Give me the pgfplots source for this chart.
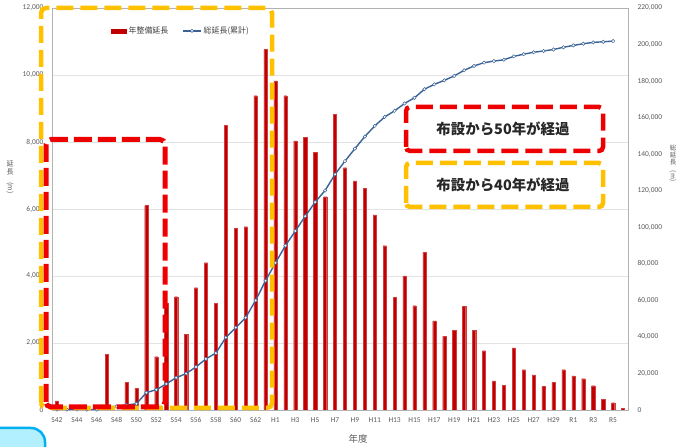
\documentclass[border=0pt]{standalone}
\usepackage{pgfplots}
\usepackage{pgfplotstable}
\pgfplotsset{compat=1.18}
\usepackage{fontspec}
\setmainfont{Carlito}
\newfontfamily\jp{Noto Sans CJK JP}
\definecolor{barred}{RGB}{192,0,0}
\definecolor{lineblue}{RGB}{58,98,150}
\definecolor{boxyellow}{RGB}{255,192,0}
\definecolor{boxred}{RGB}{238,0,0}
\definecolor{ticktext}{RGB}{89,89,89}
\definecolor{cyanfill}{RGB}{178,240,255}
\definecolor{cyanedge}{RGB}{0,176,240}

% annual length (index 0 = S42 ... 56 = R5, 57 = R6)
\pgfplotstableread{
x y
0 270
1 0
2 0
3 0
4 0
5 1660
6 0
7 826
8 647
9 6100
10 1592
11 3185
12 3383
13 2259
14 3652
15 4398
16 3185
17 8507
18 5423
19 5473
20 9383
21 10766
22 9821
23 9383
24 8030
25 8139
26 7691
27 6368
28 8825
29 7234
30 6836
31 6617
32 5821
33 4905
34 3363
35 4000
36 3114
37 4706
38 2657
39 2199
40 2388
41 3104
42 2388
43 1771
44 866
45 736
46 1851
47 1204
48 1045
49 706
50 826
51 1204
52 1015
53 935
54 726
55 328
56 219
57 50
}\bars

% cumulative length
\pgfplotstableread{
x y
0 270
1 270
2 270
3 270
4 270
5 1930
6 1930
7 2756
8 3403
9 9503
10 11095
11 14280
12 17663
13 19922
14 23574
15 27972
16 31157
17 39664
18 45087
19 50560
20 59943
21 70709
22 80530
23 89913
24 97943
25 106082
26 113773
27 120141
28 128966
29 136200
30 143036
31 149653
32 155474
33 160379
34 163742
35 167742
36 170856
37 175562
38 178219
39 180418
40 182806
41 185910
42 188298
43 190069
44 190935
45 191671
46 193522
47 194726
48 195771
49 196477
50 197303
51 198507
52 199522
53 200457
54 201183
55 201511
56 201900
}\cum

\begin{document}
\begin{tikzpicture}
\useasboundingbox (0bp,0bp) rectangle (677bp,447bp);
\clip (0bp,0bp) rectangle (677bp,447bp);

\begin{axis}[
  at={(52bp,37bp)}, anchor=south west,
  scale only axis, width=576bp, height=402bp,
  xmin=-0.5, xmax=57.5, ymin=0, ymax=12000,
  axis line style={draw=gray!60, line width=0.6bp},
  ytick={0,2000,...,12000},
  ytick pos=left,
  xtick={0,2,...,56},
  xticklabels={S42,S44,S46,S48,S50,S52,S54,S56,S58,S60,S62,H1,H3,H5,H7,H9,H11,H13,H15,H17,H19,H21,H23,H25,H27,H29,R1,R3,R5},
  major tick length=0pt,
  ymajorgrids, grid style={draw=gray!22, line width=0.7bp},
  scaled y ticks=false,
  /pgf/number format/.cd, fixed, precision=0, 1000 sep={,}, assume math mode=true, /pgfplots/.cd,
  ticklabel style={font=\fontsize{7.5}{8}\selectfont, text=ticktext},
  xticklabel style={yshift=-4bp},
  yticklabel style={xshift=-5bp},
]
\addplot[ybar, fill=barred, draw=barred!75!white, line width=0.3bp, bar width=3.2bp, bar shift=0pt] table[x=x,y=y]{\bars};
\end{axis}

\begin{axis}[
  at={(52bp,37bp)}, anchor=south west,
  scale only axis, width=576bp, height=402bp,
  xmin=-0.5, xmax=57.5, ymin=0, ymax=220000,
  axis x line=none, axis y line*=right,
  axis line style={draw=gray!60, line width=0.6bp},
  ytick={0,20000,40000,60000,80000,100000,120000,140000,160000,180000,200000,220000},
  major tick length=0pt,
  scaled y ticks=false,
  /pgf/number format/.cd, fixed, precision=0, 1000 sep={,}, assume math mode=true, /pgfplots/.cd,
  ticklabel style={font=\fontsize{7.5}{8}\selectfont, text=ticktext},
  yticklabel style={xshift=6bp},
  legend style={at={(0.224,0.943)}, anchor=center, draw=none, fill=none,
    font=\jp\fontsize{8}{9}\selectfont, text=black!75,
    /tikz/every even column/.append style={column sep=12bp}},
  legend columns=2,
]
\addlegendimage{legend image code/.code={\fill[barred] (0bp,-2bp) rectangle (15bp,2bp);}}
\addlegendentry{年整備延長}
\addlegendimage{legend image code/.code={\draw[lineblue,line width=1.2bp] (0bp,0bp) -- (18bp,0bp); \draw[lineblue,fill=white,line width=0.5bp] (9bp,0bp) circle (1.6bp);}}
\addlegendentry{総延長(累計)}
\addplot[lineblue, line width=1.4bp, mark=*, mark size=1.7bp, mark options={fill=white, draw=lineblue, line width=0.5bp}, forget plot] table[x=x,y=y]{\cum};
\end{axis}

% axis titles
\node[font=\jp\fontsize{9.5}{10}\selectfont, text=ticktext] at (358bp,8bp) {年度};
\node[align=center, inner sep=0pt, font=\jp\fontsize{7}{8}\selectfont, text=ticktext] at (10bp,270bp) {延\\長\\\rotatebox{-90}{(m)}};
\node[align=center, inner sep=0pt, font=\jp\fontsize{6.5}{7}\selectfont, text=ticktext] at (673bp,284bp) {総\\延\\長\\\rotatebox{-90}{(m)}};

% highlight boxes
\draw[boxyellow, line width=4.5bp, dash pattern=on 17bp off 7bp, rounded corners=5bp] (41bp,39bp) rectangle (272bp,439bp);
\draw[boxred, line width=5bp, dash pattern=on 18bp off 6bp, rounded corners=5bp] (46bp,40bp) rectangle (165bp,307.5bp);

% annotation boxes
\draw[boxred, line width=4.5bp, dash pattern=on 17bp off 7bp, rounded corners=4bp, fill=white] (406bp,296bp) rectangle (603bp,340bp);
\node[font=\jp\bfseries\fontsize{14.5}{16}\selectfont, text=black!85] at (503bp,318bp) {布設から50年が経過};
\draw[boxyellow, line width=4.5bp, dash pattern=on 17bp off 7bp, rounded corners=4bp, fill=white] (406bp,240bp) rectangle (603bp,284bp);
\node[font=\jp\bfseries\fontsize{14.5}{16}\selectfont, text=black!85] at (503bp,262bp) {布設から40年が経過};

% partial shape at lower left of the slide
\draw[cyanedge, line width=2.5bp, fill=cyanfill, rounded corners=14bp] (-20bp,-20bp) rectangle (45bp,19bp);
\end{tikzpicture}
\end{document}
